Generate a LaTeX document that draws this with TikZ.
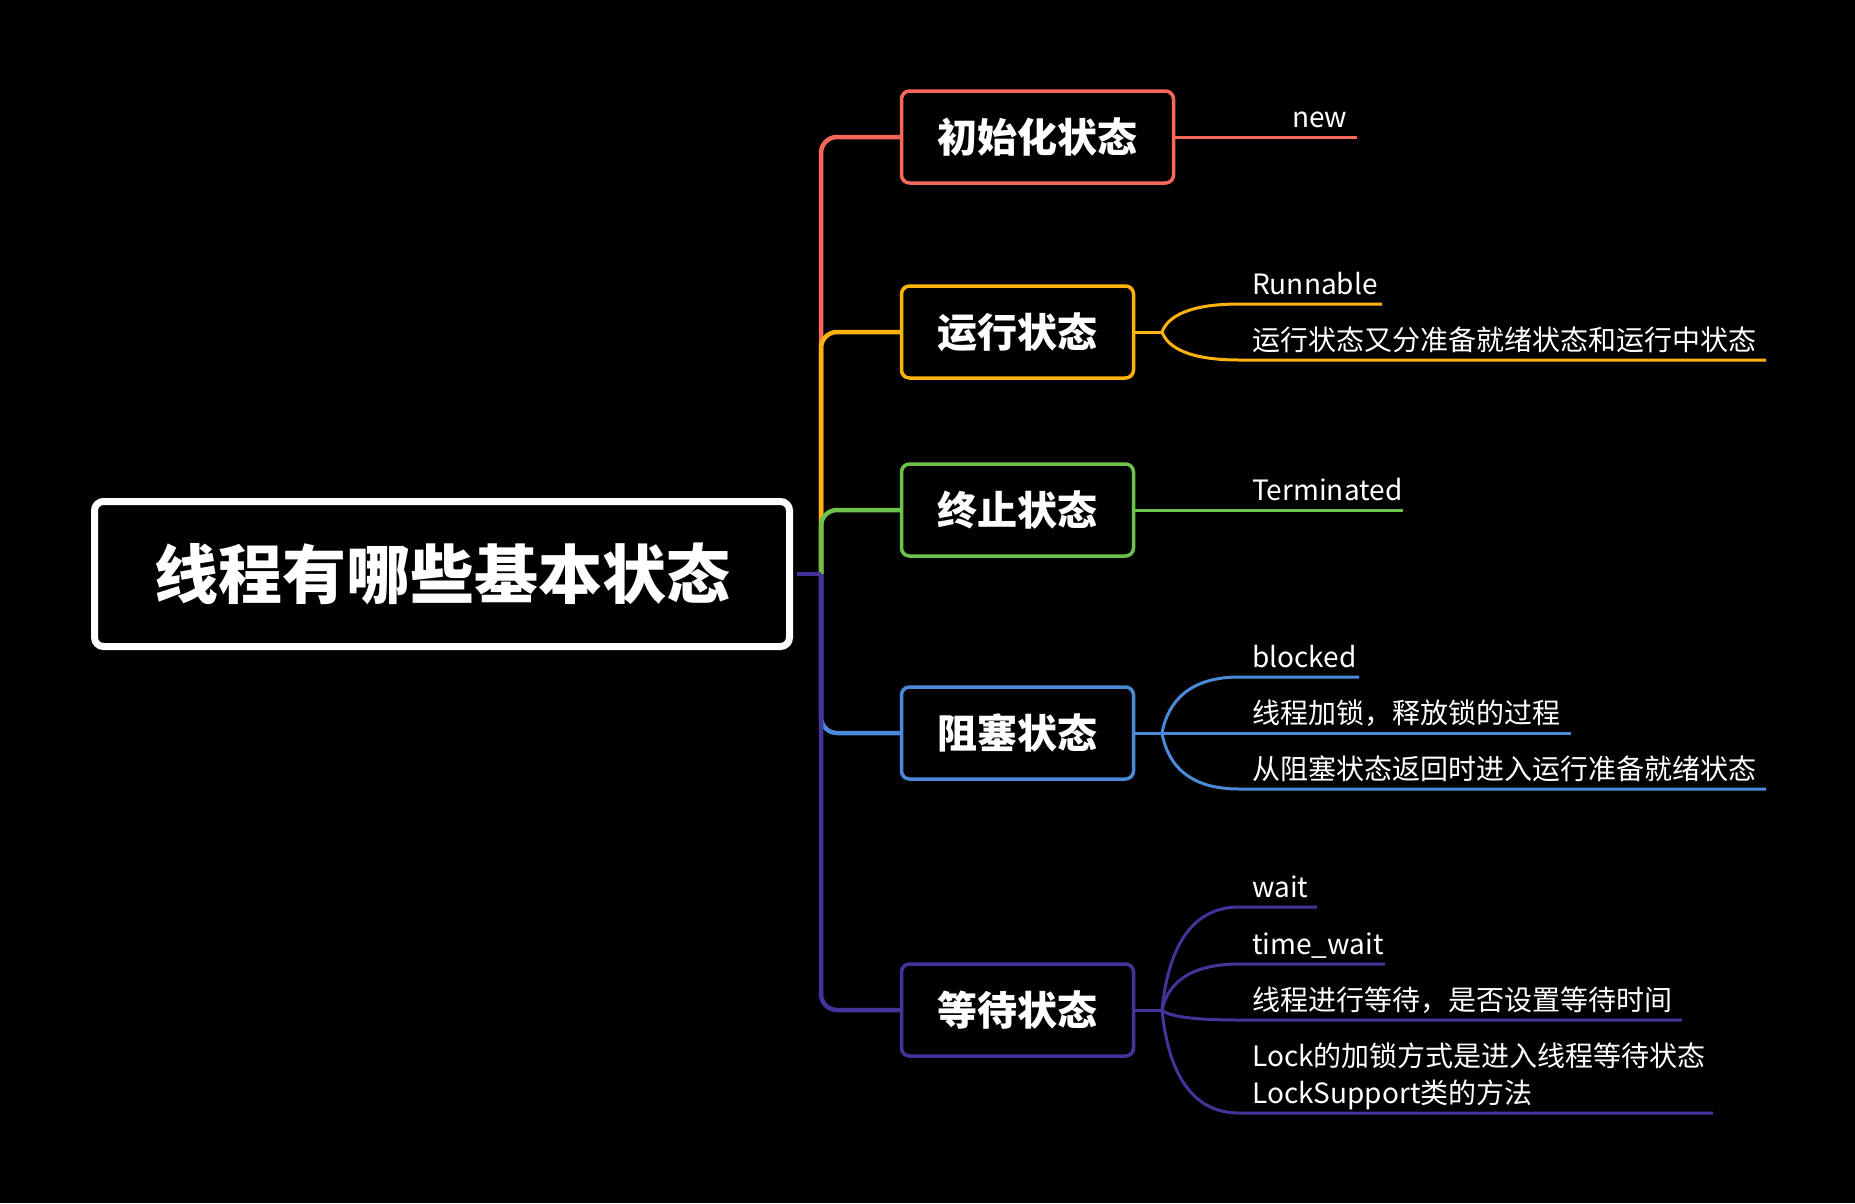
\documentclass[tikz,border=0pt]{standalone}
\usepackage{fontspec}
\setmainfont{Noto Sans CJK SC}
\usetikzlibrary{calc}
\definecolor{cred}{HTML}{F9665A}
\definecolor{cyellow}{HTML}{FFB30F}
\definecolor{cgreen}{HTML}{6CC24A}
\definecolor{cblue}{HTML}{4A8AD8}
\definecolor{cpurple}{HTML}{43339A}

\begin{document}
\begin{tikzpicture}[x=1pt,y=-1pt,
  rootbox/.style={draw=white, line width=7pt, rounded corners=9pt, fill=black, text=white,
    minimum width=695pt, minimum height=145pt, inner sep=0pt,
    font=\fontsize{64}{64}\selectfont\bfseries},
  statebox/.style={draw=#1, line width=3.5pt, rounded corners=8pt, fill=black, text=white,
    anchor=west, inner xsep=36pt, inner ysep=0pt, minimum height=92pt,
    font=\fontsize{40}{40}\selectfont\bfseries},
  trunk/.style={draw=#1, line width=4.5pt, rounded corners=16pt},
  twig/.style={draw=#1, line width=3pt},
  leaf/.style={text=white, anchor=base west, inner sep=0pt, align=left,
    font=\fontsize{28}{37}\selectfont},
]
% canvas
\fill[black] (0,0) rectangle (1855,1203);

% central topic and the five states
\node[rootbox] (root) at (442,574) {线程有哪些基本状态};
\node[statebox=cred]    (n1) at (899.75,137) {初始化状态};
\node[statebox=cyellow] (n2) at (899.75,332) {运行状态};
\node[statebox=cgreen]  (n3) at (899.75,510) {终止状态};
\node[statebox=cblue]   (n4) at (899.75,733) {阻塞状态};
\node[statebox=cpurple] (n5) at (899.75,1010) {等待状态};

% trunk: one branch per state, later branches drawn over earlier ones
\coordinate (J) at (821,574);
\draw[trunk=cred]    (J) |- (n1.west);
\draw[trunk=cyellow] (J) |- (n2.west);
\draw[trunk=cgreen]  (J) |- (n3.west);
\draw[trunk=cblue]   (J) |- (n4.west);
\draw[trunk=cpurple] (J) |- (n5.west);
\draw[draw=cpurple, line width=4.5pt] ([xshift=3.5pt]root.east) -- (J);

% 初始化状态
\coordinate (e1) at (1357,137);
\draw[twig=cred] (n1.east) -- (e1);
\node[leaf] (t1) at (1292,127) {new};

% 运行状态
\coordinate (J2) at (1162,332);
\coordinate (s2a) at (1239,304); \coordinate (e2a) at (1382,304);
\coordinate (s2b) at (1239,360); \coordinate (e2b) at (1766,360);
\draw[twig=cyellow] (n2.east) -- (J2);
\draw[twig=cyellow] (J2) .. controls +(6,-16) and +(-49,0) .. (s2a) -- (e2a);
\draw[twig=cyellow] (J2) .. controls +(6,16) and +(-49,0) .. (s2b) -- (e2b);
\node[leaf] (t2a) at (1252,294) {Runnable};
\node[leaf] (t2b) at (1252,350) {运行状态又分准备就绪状态和运行中状态};

% 终止状态
\coordinate (e3) at (1403,510);
\draw[twig=cgreen] (n3.east) -- (e3);
\node[leaf] (t3) at (1252,500) {Terminated};

% 阻塞状态
\coordinate (J4) at (1162,733);
\coordinate (s4a) at (1239,677); \coordinate (e4a) at (1359,677);
\coordinate (e4b) at (1571,733);
\coordinate (s4c) at (1239,789); \coordinate (e4c) at (1766,789);
\draw[twig=cblue] (n4.east) -- (J4);
\draw[twig=cblue] (J4) .. controls +(6,-32) and +(-49,0) .. (s4a) -- (e4a);
\draw[twig=cblue] (J4) -- (e4b);
\draw[twig=cblue] (J4) .. controls +(6,33) and +(-49,0) .. (s4c) -- (e4c);
\node[leaf] (t4a) at (1252,667) {blocked};
\node[leaf] (t4b) at (1252,723) {线程加锁，释放锁的过程};
\node[leaf] (t4c) at (1252,779) {从阻塞状态返回时进入运行准备就绪状态};

% 等待状态
\coordinate (J5) at (1162,1010);
\coordinate (s5a) at (1239,907);  \coordinate (e5a) at (1317,907);
\coordinate (s5b) at (1239,964);  \coordinate (e5b) at (1385,964);
\coordinate (s5c) at (1239,1020); \coordinate (e5c) at (1682,1020);
\coordinate (s5d) at (1239,1113); \coordinate (e5d) at (1713,1113);
\draw[twig=cpurple] (n5.east) -- (J5);
\draw[twig=cpurple] (J5) .. controls +(6,-60) and +(-49,0) .. (s5a) -- (e5a);
\draw[twig=cpurple] (J5) .. controls +(6,-27) and +(-49,0) .. (s5b) -- (e5b);
\draw[twig=cpurple] (J5) .. controls +(6,6) and +(-49,0) .. (s5c) -- (e5c);
\draw[twig=cpurple] (J5) .. controls +(6,60) and +(-49,0) .. (s5d) -- (e5d);
\node[leaf] (t5a) at (1252,897) {wait};
\node[leaf] (t5b) at (1252,954) {time\_wait};
\node[leaf] (t5c) at (1252,1010) {线程进行等待，是否设置等待时间};
\node[leaf] (t5d) at (1252,1103) {Lock的加锁方式是进入线程等待状态\\LockSupport类的方法};
\end{tikzpicture}
\end{document}
